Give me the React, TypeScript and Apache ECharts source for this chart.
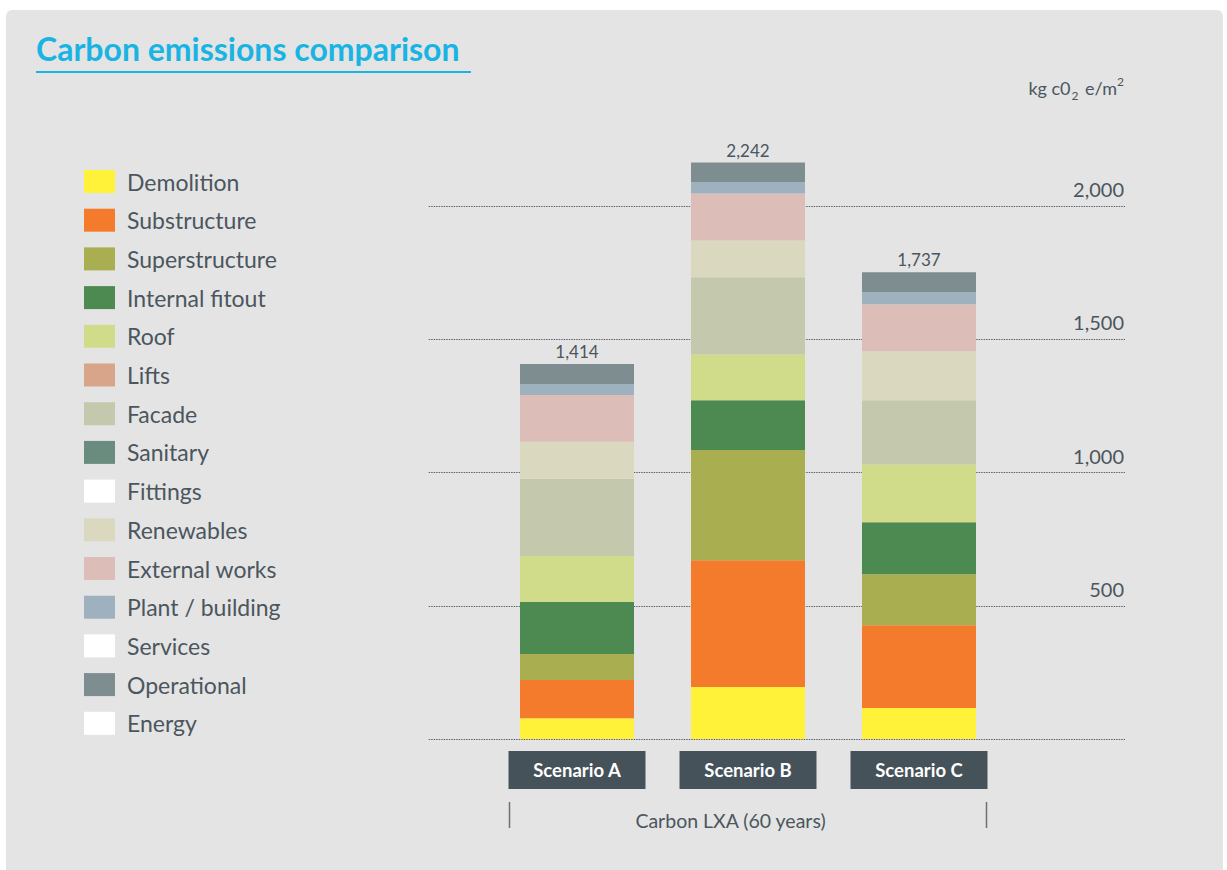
import React, { useEffect, useRef } from "react";
import * as echarts from "echarts";

// ---- data ----
const categories = ["Scenario A", "Scenario B", "Scenario C"];
const totals = [1414, 2242, 1737];

const demolition = [78, 195, 116];
const substructure = [143, 476, 311];
const superstructure = [98, 413, 191];
const internalFitout = [195, 187, 195];
const roof = [173, 172, 217];
const lifts = [0, 0, 0];
const facade = [290, 290, 241];
const sanitary = [0, 0, 0];
const fittings = [0, 0, 0];
const renewables = [138, 138, 184];
const externalWorks = [176, 176, 176];
const plantBuilding = [41, 42, 45];
const services = [0, 0, 0];
const operational = [75, 74, 75];
const energy = [0, 0, 0];

const seriesNames = [
  "Demolition",
  "Substructure",
  "Superstructure",
  "Internal fitout",
  "Roof",
  "Lifts",
  "Facade",
  "Sanitary",
  "Fittings",
  "Renewables",
  "External works",
  "Plant / building",
  "Services",
  "Operational",
  "Energy",
];
const seriesValues = [
  demolition,
  substructure,
  superstructure,
  internalFitout,
  roof,
  lifts,
  facade,
  sanitary,
  fittings,
  renewables,
  externalWorks,
  plantBuilding,
  services,
  operational,
  energy,
];
const seriesColors = [
  "#fff238",
  "#f47b2b",
  "#a9af50",
  "#4d8a51",
  "#d1dc8a",
  "#d8a58a",
  "#c4c8ac",
  "#6a8c7e",
  "#ffffff",
  "#dad9bf",
  "#ddbdb7",
  "#9eb1bf",
  "#ffffff",
  "#7e8d8f",
  "#ffffff",
];

const yMax = 2500;
const yInterval = 500;

const FONT = "Lato";
const TEXT = "#4b565e";

export default function App() {
  const ref = useRef<HTMLDivElement>(null);

  useEffect(() => {
    if (!ref.current) return;
    const chart = echarts.init(ref.current, null, { renderer: "svg" });

    const gridTop = 72.75;
    const gridBottom = 131;

    const series = seriesNames.map((name, i) => ({
      name,
      type: "bar",
      stack: "total",
      xAxisIndex: 0,
      yAxisIndex: 0,
      barWidth: 114,
      itemStyle: { color: seriesColors[i] },
      data: seriesValues[i],
      label:
        name === "Operational"
          ? {
              show: true,
              position: "top",
              distance: 4,
              fontFamily: FONT,
              fontSize: 17,
              color: TEXT,
              formatter: (p: any) => totals[p.dataIndex].toLocaleString("en-US"),
            }
          : { show: false },
    }));

    chart.setOption({
      animation: false,
      textStyle: { fontFamily: FONT },
      title: {
        text: "Carbon emissions comparison",
        left: 36,
        top: 32,
        padding: 0,
        textStyle: {
          fontFamily: FONT,
          fontSize: 32,
          fontWeight: "bold",
          color: "#19b4e3",
        },
      },
      legend: {
        orient: "vertical",
        left: 84,
        top: 170,
        padding: 0,
        itemWidth: 31,
        itemHeight: 23,
        itemGap: 15.7,
        icon: "rect",
        selectedMode: false,
        data: seriesNames,
        textStyle: {
          fontFamily: FONT,
          fontSize: 23,
          color: TEXT,
          lineHeight: 23,
          padding: [0, 0, 0, 7],
        },
      },
      grid: [
        { left: 491.5, right: 222.5, top: gridTop, bottom: gridBottom },
        { left: 428.7, right: 102, top: gridTop, bottom: gridBottom },
      ],
      xAxis: [
        {
          type: "category",
          gridIndex: 0,
          data: categories,
          axisLine: { show: false },
          axisTick: { show: false },
          axisLabel: {
            margin: 12,
            fontFamily: FONT,
            fontSize: 18.5,
            fontWeight: "bold",
            color: "#ffffff",
            backgroundColor: "#46525a",
            width: 137,
            height: 38,
            lineHeight: 38,
            align: "center",
          },
          name: "Carbon LXA (60 years)",
          nameLocation: "middle",
          nameGap: 71,
          nameTextStyle: {
            fontFamily: FONT,
            fontSize: 19.5,
            color: TEXT,
            padding: [0, 35, 0, 0],
          },
        },
        {
          type: "value",
          gridIndex: 1,
          min: 0,
          max: 1,
          show: false,
        },
      ],
      yAxis: [
        {
          type: "value",
          gridIndex: 0,
          min: 0,
          max: yMax,
          interval: yInterval,
          show: false,
        },
        {
          type: "value",
          gridIndex: 1,
          position: "right",
          min: 0,
          max: yMax,
          interval: yInterval,
          axisLine: { show: false },
          axisTick: { show: false },
          splitLine: {
            show: true,
            showMaxLine: false,
            lineStyle: { color: "#5f6366", width: 1, type: [1.5, 1] },
          },
          axisLabel: {
            inside: true,
            margin: 1,
            align: "right",
            verticalAlign: "bottom",
            padding: [0, 0, 7, 0],
            fontFamily: FONT,
            fontSize: 20,
            color: TEXT,
            showMinLabel: false,
            showMaxLabel: false,
            formatter: (v: number) => v.toLocaleString("en-US"),
          },
        },
      ],
      graphic: [
        {
          type: "line",
          shape: { x1: 36, y1: 72, x2: 471, y2: 72 },
          style: { stroke: "#19b4e3", lineWidth: 2 },
        },
        {
          type: "line",
          shape: { x1: 509.5, y1: 802, x2: 509.5, y2: 828 },
          style: { stroke: "#6b7277", lineWidth: 1.5 },
        },
        {
          type: "line",
          shape: { x1: 986.5, y1: 802, x2: 986.5, y2: 828 },
          style: { stroke: "#6b7277", lineWidth: 1.5 },
        },
        {
          type: "text",
          x: 1124,
          y: 88,
          style: {
            text: "{a|kg c0}{sub|2}{a| e/m}{sup|2}",
            align: "right",
            verticalAlign: "middle",
            rich: {
              a: { fontFamily: FONT, fontSize: 18, fill: TEXT, lineHeight: 26 },
              sub: {
                fontFamily: FONT,
                fontSize: 12,
                fill: TEXT,
                lineHeight: 26,
                verticalAlign: "bottom",
                padding: [0, 2, 0, 1],
              },
              sup: {
                fontFamily: FONT,
                fontSize: 12,
                fill: TEXT,
                lineHeight: 26,
                verticalAlign: "top",
              },
            },
          },
        },
      ],
      series,
    });

    return () => chart.dispose();
  }, []);

  return (
    <div
      style={{
        position: "fixed",
        left: 0,
        top: 0,
        width: 1227,
        height: 870,
        background: "#ffffff",
        overflow: "hidden",
      }}
    >
      <div
        style={{
          position: "absolute",
          left: 6,
          top: 10,
          width: 1217,
          height: 880,
          background: "#e4e4e4",
          borderRadius: "6px 6px 0 0",
        }}
      />
      <div
        ref={ref}
        style={{ position: "absolute", left: 0, top: 0, width: 1227, height: 870 }}
      />
    </div>
  );
}
